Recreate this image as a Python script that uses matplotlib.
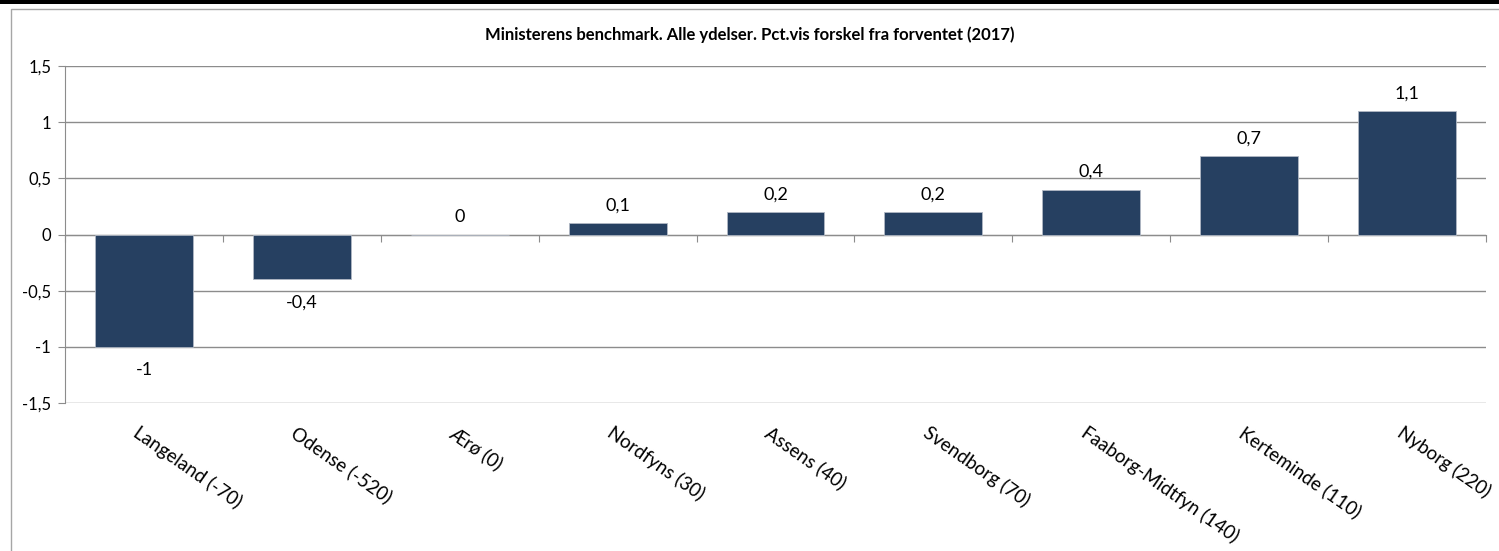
import numpy as np
import matplotlib.pyplot as plt
import matplotlib.transforms as mtrans
from matplotlib.patches import Rectangle

kommuner = ['Langeland (-70)', 'Odense (-520)', 'Ærø (0)', 'Nordfyns (30)', 'Assens (40)',
            'Svendborg (70)', 'Faaborg-Midtfyn (140)', 'Kerteminde (110)', 'Nyborg (220)']
vaerdier = [-1, -0.4, 0, 0.1, 0.2, 0.2, 0.4, 0.7, 1.1]
yticks = [-1.5, -1, -0.5, 0, 0.5, 1, 1.5]
titel = 'Ministerens benchmark. Alle ydelser. Pct.vis forskel fra forventet (2017)'

plt.rcParams['font.family'] = ['Lato', 'DejaVu Sans']
grid_col = '#8c8c8c'
bar_col = '#264061'

fig = plt.figure(figsize=(14.99, 5.51), dpi=100)

# ramme og sort kant i toppen
fig.patches.append(Rectangle((0, 1 - 3.5 / 551), 1, 3.5 / 551, transform=fig.transFigure,
                             facecolor='black', edgecolor='none', zorder=0))
fig.patches.append(Rectangle((11 / 1499, -0.02), 1.1, 1 - 8.5 / 551 + 0.02, transform=fig.transFigure,
                             facecolor='none', edgecolor='#a6a6a6', linewidth=1.0, zorder=0))

ax = fig.add_axes([65 / 1499, 148 / 551, 1421 / 1499, 337 / 551])
x = np.arange(len(kommuner))
ax.bar(x, vaerdier, width=0.62, color=bar_col, edgecolor='#b0b8c4', linewidth=0.6, zorder=3)

ax.set_xlim(-0.5, len(kommuner) - 0.5)
ax.set_ylim(-1.5, 1.5)
ax.set_yticks(yticks)
ax.set_yticklabels([('%g' % v).replace('.', ',') for v in yticks], fontsize=12)
ax.yaxis.grid(True, color=grid_col, linewidth=1.0, zorder=0)
ax.tick_params(axis='y', length=5, color=grid_col, pad=5)

# x-akse ved nul
ax.spines['bottom'].set_position(('data', 0))
ax.spines['bottom'].set_color(grid_col)
ax.spines['left'].set_color(grid_col)
ax.spines['top'].set_visible(False)
ax.spines['right'].set_visible(False)
ax.set_xticks(np.arange(len(kommuner) + 1) - 0.5)
ax.set_xticklabels([])
ax.tick_params(axis='x', direction='out', length=5, color=grid_col)

# dataetiketter
for xi, v in zip(x, vaerdier):
    lab = ('%g' % v).replace('.', ',')
    if v < 0:
        ax.annotate(lab, (xi, v), xytext=(0, -11), textcoords='offset points',
                    ha='center', va='top', fontsize=13)
    else:
        ax.annotate(lab, (xi, v), xytext=(0, 7), textcoords='offset points',
                    ha='center', va='bottom', fontsize=13)

# kategorinavne
trans = mtrans.blended_transform_factory(ax.transData, ax.transAxes)
for xi, navn in zip(x, kommuner):
    ax.text(xi - 0.02, 0, navn, transform=trans + mtrans.ScaledTranslation(0, -0.2, fig.dpi_scale_trans),
            rotation=-35, rotation_mode='anchor', ha='left', va='top', fontsize=13.5)

fig.text(750 / 1499, 1 - 35 / 551, titel, ha='center', va='center', fontsize=12, fontweight='bold')

fig.savefig('out.png', dpi=100)
